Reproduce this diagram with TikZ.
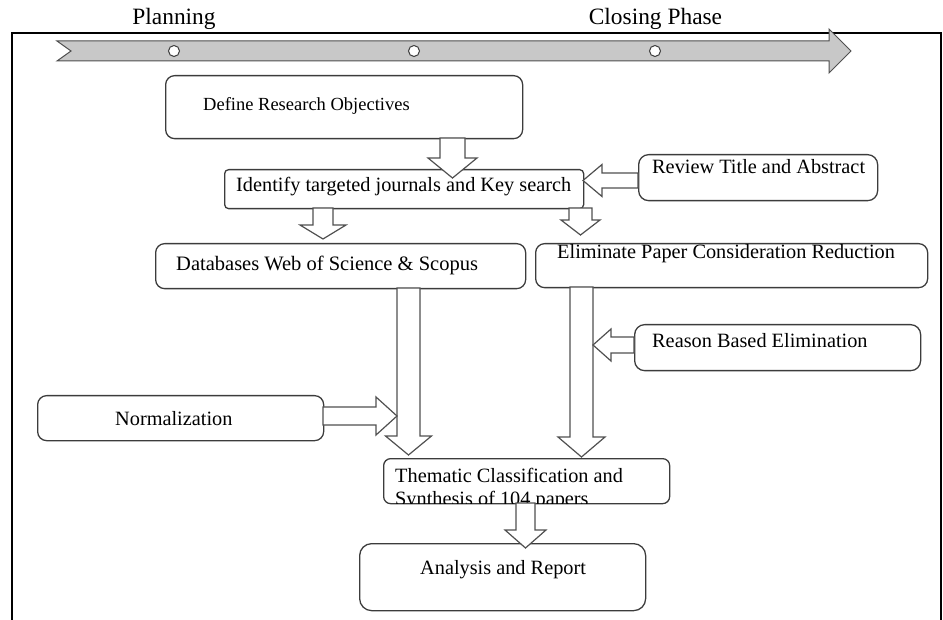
\documentclass[tikz,border=0pt]{standalone}
\usepackage{fontspec}
\setmainfont{Liberation Serif}
\definecolor{lnc}{HTML}{3C3C3C}
\definecolor{arc}{HTML}{505050}
\definecolor{bandc}{HTML}{C8C8C8}
\newcommand{\vblk}[6]{% x, ystart, ytip, half shaft, half head, signed head length
  \draw[blk] (#1-#4,#2) -- (#1-#4,#3+#6) -- (#1-#5,#3+#6) -- (#1,#3) -- (#1+#5,#3+#6) -- (#1+#4,#3+#6) -- (#1+#4,#2) -- cycle;}
\newcommand{\hblk}[6]{% y, xstart, xtip, half shaft, half head, signed head length
  \draw[blk] (#2,#1-#4) -- (#3+#6,#1-#4) -- (#3+#6,#1-#5) -- (#3,#1) -- (#3+#6,#1+#5) -- (#3+#6,#1+#4) -- (#2,#1+#4) -- cycle;}
\begin{document}
\begin{tikzpicture}[x=1pt,y=-1pt,
  box/.style={draw=lnc, line width=1.3pt, rounded corners=9pt, anchor=north west, inner sep=0pt},
  blk/.style={draw=arc, line width=1.2pt, fill=white, line join=miter},
  txt/.style={anchor=base west, inner sep=0pt, font=\fontsize{20.3}{23}\selectfont},
  ttl/.style={anchor=base, inner sep=0pt, font=\fontsize{23.4}{26}\selectfont}]
\useasboundingbox (0,0) rectangle (943,620);
% frame
\draw[line width=2pt] (12,625) -- (12,33) -- (941,33) -- (941,625);
% timeline band
\draw[draw=arc, line width=1pt, fill=bandc] (57,41) -- (829,41) -- (829,29) -- (851,51) -- (829,73) -- (829,61) -- (57,61) -- (71,51) -- cycle;
\foreach \cx/\nm in {174/c1,414/c2,655/c3}
  \node[circle, draw=lnc, fill=white, line width=1pt, minimum size=11pt, inner sep=0pt] (\nm) at (\cx,51) {};
\node[ttl] (plan) at (174,25) {Planning};
\node[ttl] (close) at (655.5,25) {Closing Phase};
% boxes
\node[box, minimum width=357pt, minimum height=63pt] (def) at (165,75) {};
\node[box, rounded corners=4pt, minimum width=359pt, minimum height=39pt] (ident) at (224,169) {};
\node[box, rounded corners=10pt, minimum width=239pt, minimum height=46pt] (review) at (638,154) {};
\node[box, minimum width=370pt, minimum height=45pt] (db) at (155,243) {};
\node[box, minimum width=392pt, minimum height=44pt] (elim) at (535,243) {};
\node[box, rounded corners=10pt, minimum width=286pt, minimum height=46pt] (reason) at (634,324) {};
\node[box, minimum width=286pt, minimum height=45pt] (norm) at (37,395) {};
\node[box, rounded corners=7pt, minimum width=286pt, minimum height=45pt] (them) at (383,458) {};
\node[box, rounded corners=12pt, minimum width=286pt, minimum height=67pt] (anal) at (359,543) {};
% texts
\node[txt, font=\fontsize{18.5}{21}\selectfont] (defT) at (203,111) {Define Research Objectives};
\node[txt] (identT) at (236,192) {Identify targeted journals and Key search};
\node[txt] (reviewT) at (652,174) {Review Title and Abstract};
\node[txt, font=\fontsize{20.5}{23}\selectfont] (dbT) at (176,270.5) {Databases Web of Science \& Scopus};
\node[txt] (elimT) at (557,259) {Eliminate Paper Consideration Reduction};
\node[txt] (reasonT) at (652,348) {Reason Based Elimination};
\node[txt] (normT) at (115,425) {Normalization};
\begin{scope}
  \clip (383,458) rectangle (669,503);
  \node[txt] (themT1) at (395,482) {Thematic Classification and};
  \node[txt] (themT2) at (395,505.5) {Synthesis of 104 papers};
\end{scope}
\node[txt] (analT) at (420,574) {Analysis and Report};
% block arrows
\vblk{452.5}{138}{178}{12.5}{24.5}{-20}
\vblk{323}{208}{239}{10}{23}{-14}
\vblk{580.5}{208}{235}{11.5}{19.5}{-15}
\hblk{180.5}{638}{583}{7.5}{16}{19}
\vblk{408.5}{288}{455}{11.5}{23}{-19}
\vblk{581.5}{287}{457}{11.5}{23.5}{-20}
\hblk{345}{634}{593}{8}{16}{18}
\hblk{416}{323}{397}{9}{19}{-21}
\vblk{525.5}{503}{548}{9.5}{20.5}{-18}
\end{tikzpicture}
\end{document}
